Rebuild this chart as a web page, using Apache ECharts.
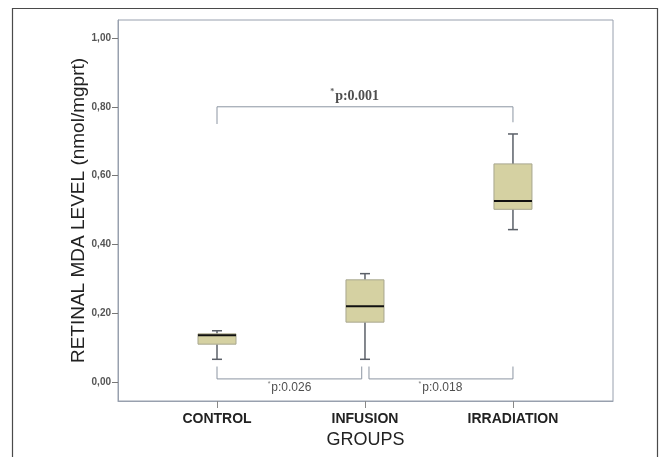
<!DOCTYPE html>
<html>
<head>
<meta charset="utf-8">
<script src="https://cdn.jsdelivr.net/npm/echarts@6/dist/echarts.min.js"></script>
<style>
  html, body { margin: 0; padding: 0; background: #fff; }
  #chart { width: 661px; height: 457px; }
</style>
</head>
<body>
<div id="chart"></div>
<script>
// groups on the x axis (positions 0, 1, 2)
const groups = ['CONTROL', 'INFUSION', 'IRRADIATION']
const groupPos = [0, 1, 2]
// box stats per group: min, Q1, median, Q3, max
const boxMin = [0.066, 0.066, 0.443]
const boxQ1 = [0.110, 0.174, 0.502]
const boxMedian = [0.136, 0.220, 0.526]
const boxQ3 = [0.140, 0.297, 0.634]
const boxMax = [0.149, 0.315, 0.721]

const yTicks = [0, 0.2, 0.4, 0.6, 0.8, 1.0]

// significance brackets (x in group units, y in data units)
const bracketTop = [[0, 0.750], [0, 0.800], [2, 0.800], [2, 0.755]]
const bracketLeft = [[0, 0.045], [0, 0.009], [0.978, 0.009], [0.978, 0.045]]
const bracketRight = [[1.027, 0.045], [1.027, 0.009], [2, 0.009], [2, 0.045]]
const pLabels = ['p:0.001', 'p:0.026', 'p:0.018']
const pLabelPos = [[0.93, 0.831], [0.49, -0.016], [1.51, -0.016]]

const chart = echarts.init(document.getElementById('chart'))

const frameColor = '#98a0ae'

const boxData = groupPos.map((x, i) => [x, boxMin[i], boxQ1[i], boxMedian[i], boxQ3[i], boxMax[i]])

const renderBox = (params, api) => {
  const x = api.value(0)
  const pMin = api.coord([x, api.value(1)])
  const pQ1 = api.coord([x, api.value(2)])
  const pMed = api.coord([x, api.value(3)])
  const pQ3 = api.coord([x, api.value(4)])
  const pMax = api.coord([x, api.value(5)])
  const cx = pMin[0]
  const half = 19
  const cap = 5
  const whisker = { stroke: '#5b6068', lineWidth: 1.5 }
  return {
    type: 'group',
    children: [
      { type: 'line', shape: { x1: cx, y1: pMin[1], x2: cx, y2: pQ1[1] }, style: whisker },
      { type: 'line', shape: { x1: cx, y1: pQ3[1], x2: cx, y2: pMax[1] }, style: whisker },
      { type: 'line', shape: { x1: cx - cap, y1: pMin[1], x2: cx + cap, y2: pMin[1] }, style: whisker },
      { type: 'line', shape: { x1: cx - cap, y1: pMax[1], x2: cx + cap, y2: pMax[1] }, style: whisker },
      {
        type: 'rect',
        shape: { x: cx - half, y: pQ3[1], width: half * 2, height: pQ1[1] - pQ3[1] },
        style: { fill: '#d5d1a2', stroke: '#a8a78f', lineWidth: 1 }
      },
      { type: 'line', shape: { x1: cx - half, y1: pMed[1], x2: cx + half, y2: pMed[1] }, style: { stroke: '#111', lineWidth: 2 } }
    ]
  }
}

const bracketSeries = (data) => ({
  type: 'line',
  data: data,
  symbol: 'none',
  silent: true,
  lineStyle: { color: '#8c95a2', width: 1 },
  z: 1
})

const labelSeries = (text, pos, top) => ({
  type: 'scatter',
  data: [pos],
  symbolSize: 0,
  silent: true,
  label: {
    show: true,
    position: 'inside',
    color: '#333',
    textBorderWidth: 0,
    formatter: '{a|*}{b|' + text + '}',
    rich: top ? {
      a: { fontSize: 8, fontFamily: 'Liberation Serif', fontWeight: 'bold', color: '#333', verticalAlign: 'top', padding: [0, 1, 0, 0] },
      b: { fontSize: 14, fontFamily: 'Liberation Serif', fontWeight: 'bold', color: '#222', lineHeight: 16 }
    } : {
      a: { fontSize: 7, fontFamily: 'Liberation Sans', color: '#555', verticalAlign: 'top', padding: [0, 1, 0, 0] },
      b: { fontSize: 12, fontFamily: 'Liberation Sans', color: '#222', lineHeight: 14 }
    }
  }
})

const option = {
  animation: false,
  backgroundColor: '#fff',
  graphic: [{
    type: 'rect',
    shape: { x: 12.5, y: 8.5, width: 645, height: 470 },
    style: { fill: 'none', stroke: '#4a4a4a', lineWidth: 1.2 },
    silent: true
  }],
  grid: {
    left: 118,
    top: 20,
    width: 495,
    height: 381,
    show: true,
    borderColor: frameColor,
    borderWidth: 1,
    containLabel: false
  },
  xAxis: {
    type: 'value',
    min: -0.669,
    max: 2.676,
    name: 'GROUPS',
    nameLocation: 'middle',
    nameGap: 30,
    nameMoveOverlap: false,
    nameTextStyle: { fontFamily: 'Liberation Sans', fontSize: 18, color: '#222' },
    axisLine: { show: true, onZero: false, lineStyle: { color: frameColor, width: 1 } },
    axisTick: { show: true, customValues: groupPos, length: 7, lineStyle: { color: '#888' } },
    axisLabel: {
      customValues: groupPos,
      formatter: (v) => groups[Math.round(v)],
      margin: 11,
      fontFamily: 'Liberation Sans',
      fontWeight: 'bold',
      fontSize: 14,
      color: '#222'
    },
    splitLine: { show: false }
  },
  yAxis: {
    type: 'value',
    min: -0.0552,
    max: 1.0523,
    name: 'RETINAL MDA LEVEL (nmol/mgprt)',
    nameLocation: 'middle',
    nameGap: 30,
    nameMoveOverlap: false,
    nameTextStyle: { fontFamily: 'Liberation Sans', fontSize: 19, color: '#222' },
    axisLine: { show: true, onZero: false, lineStyle: { color: frameColor, width: 1 } },
    axisTick: { show: true, customValues: yTicks, length: 6, lineStyle: { color: '#777' } },
    axisLabel: {
      customValues: yTicks,
      formatter: (v) => v.toFixed(2).replace('.', ','),
      margin: 7,
      fontFamily: 'Liberation Sans',
      fontWeight: 'bold',
      fontSize: 10,
      color: '#555'
    },
    splitLine: { show: false }
  },
  series: [
    bracketSeries(bracketTop),
    bracketSeries(bracketLeft),
    bracketSeries(bracketRight),
    {
      type: 'custom',
      data: boxData,
      renderItem: renderBox,
      encode: { x: 0, y: [1, 2, 3, 4, 5] },
      silent: true,
      z: 3
    },
    labelSeries(pLabels[0], pLabelPos[0], true),
    labelSeries(pLabels[1], pLabelPos[1], false),
    labelSeries(pLabels[2], pLabelPos[2], false)
  ]
}

chart.setOption(option)
</script>
</body>
</html>
